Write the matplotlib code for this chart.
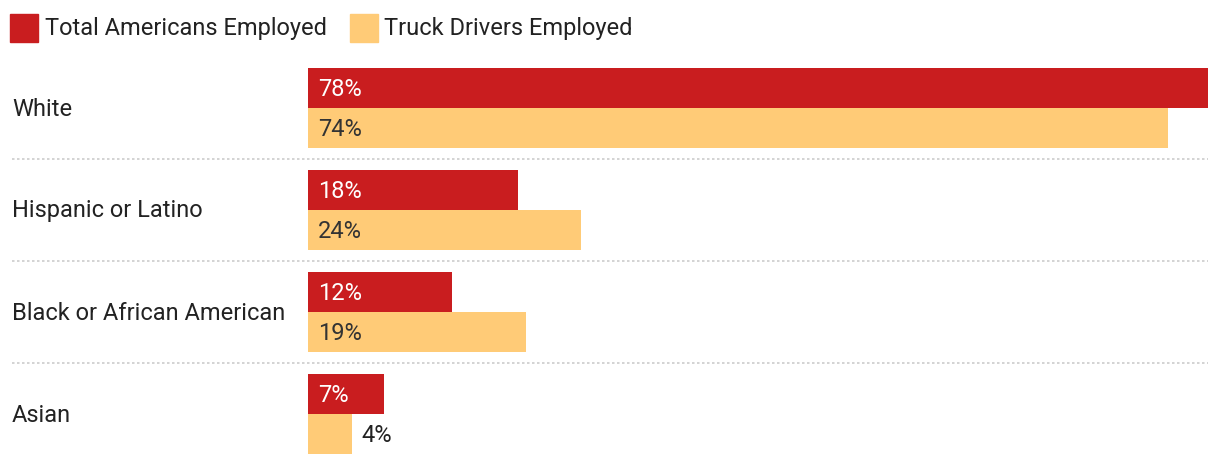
import matplotlib.pyplot as plt
from matplotlib.patches import Rectangle

plt.rcParams['font.family'] = ['Roboto', 'DejaVu Sans']

# data
groups = ['White', 'Hispanic or Latino', 'Black or African American', 'Asian']
total_employed = [78.0, 18.2, 12.5, 6.6]
truck_drivers = [74.5, 23.7, 18.9, 3.8]
total_labels = ['78%', '18%', '12%', '7%']
truck_labels = ['74%', '24%', '19%', '4%']
series_names = ['Total Americans Employed', 'Truck Drivers Employed']

red = '#C91D1F'
yellow = '#FFCB77'
dark = '#333333'
fs = 17

W, H = 1220, 466
fig = plt.figure(figsize=(W / 100, H / 100), dpi=100)
# y axis in pixel units from the top, x axis in percent
x0, x1 = 308, 1208
ax = fig.add_axes([x0 / W, 0, (x1 - x0) / W, 1])
ax.set_xlim(0, 78)
ax.set_ylim(H, 0)
ax.axis('off')

first_center = 108
step = 102
bh = 40
px = 78 / (x1 - x0)  # percent per pixel

for i, name in enumerate(groups):
    c = first_center + i * step
    ax.barh(c - bh / 2, total_employed[i], height=bh, left=0, color=red)
    ax.barh(c + bh / 2, truck_drivers[i], height=bh, left=0, color=yellow)

    ax.text(10 * px, c - bh / 2 + 1, total_labels[i], color='white', fontsize=fs,
            va='center', ha='left')
    if truck_drivers[i] * (1 / px) > 50:
        ax.text(10 * px, c + bh / 2 + 1, truck_labels[i], color=dark, fontsize=fs,
                va='center', ha='left')
    else:
        ax.text(truck_drivers[i] + 10 * px, c + bh / 2 + 1, truck_labels[i],
                color='#222222', fontsize=fs, va='center', ha='left')

    # category label on the left
    fig.text(12 / W, 1 - (c + 1) / H, name, fontsize=fs, color='#222222',
             va='center', ha='left')

    # dotted separator
    if i < len(groups) - 1:
        yy = 1 - (c + 51) / H
        fig.add_artist(plt.Line2D([12 / W, x1 / W], [yy, yy], color='#cccccc',
                                  lw=1.2, linestyle=(0, (1.5, 1.5))))

# legend drawn by hand
leg_y = 28
for (lx, tx), col, lab in zip([(10, 45), (350, 384)], [red, yellow], series_names):
    fig.add_artist(Rectangle((lx / W, 1 - (leg_y + 14) / H), 28 / W, 28 / H,
                             color=col, transform=fig.transFigure))
    fig.text(tx / W, 1 - (leg_y + 1) / H, lab, fontsize=fs, color='#222222',
             va='center', ha='left')

fig.savefig('out.png', dpi=100)
